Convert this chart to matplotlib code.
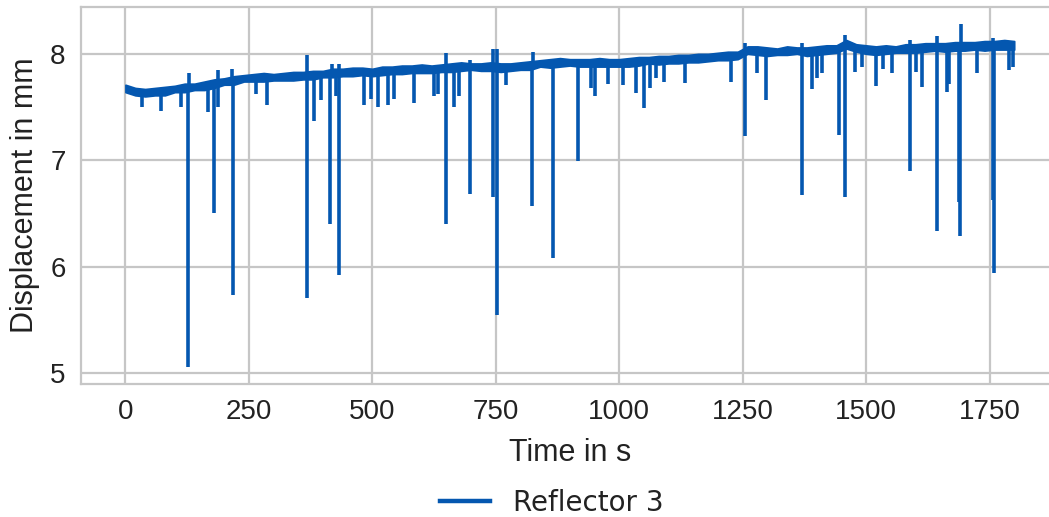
import matplotlib
matplotlib.use("Agg")
import matplotlib.pyplot as plt
from matplotlib.lines import Line2D

plt.rcParams['font.family'] = ['Liberation Sans', 'DejaVu Sans']

# noise band of the displacement signal (mm), upper/lower edge every 20 s
band_t = list(range(0, 1801, 20))
band_hi = [7.71, 7.68, 7.67, 7.68, 7.69, 7.70, 7.72, 7.72, 7.74, 7.76,
           7.77, 7.79, 7.80, 7.81, 7.82, 7.81, 7.82, 7.83, 7.83, 7.84,
           7.84, 7.86, 7.86, 7.87, 7.87, 7.86, 7.88, 7.88, 7.89, 7.89,
           7.90, 7.89, 7.90, 7.91, 7.92, 7.91, 7.91, 7.92, 7.91, 7.91,
           7.92, 7.93, 7.94, 7.95, 7.96, 7.95, 7.95, 7.95, 7.96, 7.95,
           7.95, 7.96, 7.97, 7.97, 7.98, 7.98, 7.99, 7.99, 8.00, 8.00,
           8.01, 8.02, 8.02, 8.07, 8.07, 8.06, 8.05, 8.07, 8.06, 8.06,
           8.07, 8.08, 8.08, 8.13, 8.09, 8.08, 8.07, 8.08, 8.07, 8.09,
           8.09, 8.10, 8.10, 8.10, 8.11, 8.11, 8.11, 8.12, 8.12, 8.13,
           8.12]
band_lo = [7.64, 7.61, 7.60, 7.61, 7.61, 7.64, 7.64, 7.66, 7.66, 7.68,
           7.71, 7.71, 7.74, 7.74, 7.74, 7.75, 7.75, 7.75, 7.76, 7.76,
           7.78, 7.78, 7.79, 7.79, 7.80, 7.79, 7.80, 7.81, 7.81, 7.82,
           7.82, 7.82, 7.83, 7.83, 7.84, 7.85, 7.84, 7.84, 7.83, 7.84,
           7.85, 7.85, 7.88, 7.87, 7.88, 7.89, 7.88, 7.88, 7.88, 7.88,
           7.88, 7.88, 7.89, 7.91, 7.90, 7.91, 7.91, 7.92, 7.92, 7.93,
           7.94, 7.94, 7.95, 8.00, 7.99, 7.98, 7.99, 7.99, 8.00, 7.98,
           7.99, 8.00, 8.01, 8.05, 8.02, 8.00, 7.99, 8.00, 8.01, 8.01,
           8.01, 8.02, 8.03, 8.02, 8.03, 8.03, 8.04, 8.03, 8.04, 8.04,
           8.04]

# short drop-outs: time, level before the drop, lowest reading
drop_t = [126, 180, 218, 367, 414, 432, 650, 697, 745, 753, 824, 866, 917,
          1255, 1370, 1445, 1458, 1588, 1644, 1688, 1690, 1758, 1760,
          33, 73, 113, 168, 188, 265, 287, 382, 396, 426, 483, 497, 511, 531,
          544, 584, 625, 633, 665, 675, 770, 943, 952, 977, 1008, 1034, 1051,
          1063, 1074, 1091, 1133, 1226, 1279, 1297, 1390, 1400, 1410, 1478,
          1492, 1521, 1535, 1552, 1602, 1613, 1663, 1668, 1724, 1790, 1798]
drop_top = [7.70, 7.72, 7.76, 7.80, 7.82, 7.84, 7.87, 7.88, 7.88, 7.88, 7.92, 7.92, 7.92,
            8.04, 8.04, 8.06, 8.08, 8.06, 8.07, 8.08, 8.08, 8.09, 8.09,
            7.65, 7.66, 7.68, 7.70, 7.72, 7.77, 7.78, 7.80, 7.80, 7.82, 7.83, 7.83, 7.84, 7.84,
            7.85, 7.85, 7.86, 7.86, 7.87, 7.87, 7.88, 7.92, 7.92, 7.92, 7.92, 7.93, 7.94,
            7.94, 7.94, 7.94, 7.95, 7.98, 8.03, 8.03, 8.03, 8.03, 8.03, 8.06,
            8.06, 8.05, 8.05, 8.05, 8.06, 8.06, 8.07, 8.07, 8.08, 8.08, 8.08]
drop_low = [5.06, 6.51, 5.74, 5.71, 6.40, 5.92, 6.40, 6.68, 6.66, 5.55, 6.57, 6.08, 6.99,
            7.23, 6.67, 7.24, 6.66, 6.90, 6.34, 6.61, 6.29, 6.63, 5.94,
            7.50, 7.46, 7.50, 7.45, 7.50, 7.62, 7.52, 7.37, 7.57, 7.60, 7.52, 7.58, 7.50, 7.52,
            7.58, 7.54, 7.60, 7.62, 7.50, 7.60, 7.71, 7.68, 7.60, 7.72, 7.71, 7.63, 7.49,
            7.68, 7.77, 7.74, 7.73, 7.74, 7.82, 7.57, 7.67, 7.77, 7.82, 7.83,
            7.88, 7.70, 7.86, 7.82, 7.83, 7.69, 7.64, 7.72, 7.82, 7.85, 7.88]

# upward jumps: time, base level, highest reading
peak_t = [128, 188, 216, 367, 418, 433, 650, 697, 745, 753, 826,
          1255, 1370, 1458, 1588, 1644, 1692, 1758, 1797]
peak_base = [7.70, 7.72, 7.76, 7.80, 7.82, 7.84, 7.87, 7.88, 7.88, 7.88, 7.92,
             8.00, 8.04, 8.08, 8.06, 8.07, 8.08, 8.09, 8.08]
peak_top = [7.82, 7.85, 7.86, 7.99, 7.90, 7.90, 8.01, 7.94, 8.05, 8.05, 8.02,
            8.10, 8.10, 8.18, 8.13, 8.17, 8.28, 8.15, 8.12]

blue = '#0457b0'
grid_grey = '#c6c6c6'

fig = plt.figure(figsize=(10.49, 5.17), dpi=100)
ax = fig.add_axes([0.0772, 0.2573, 0.932, 0.7292])

ax.fill_between(band_t, band_lo, band_hi, facecolor=blue, edgecolor=blue,
                lw=1.2, zorder=3)
ax.vlines(drop_t, drop_low, drop_top, color=blue, lw=2.6, zorder=3)
ax.vlines(peak_t, peak_base, peak_top, color=blue, lw=2.6, zorder=3)

ax.set_xlim(-90, 1890)
ax.set_ylim(4.9, 8.44)
ax.set_xticks([0, 250, 500, 750, 1000, 1250, 1500, 1750])
ax.set_yticks([5, 6, 7, 8])
ax.grid(True, color=grid_grey, lw=1.6)
ax.set_axisbelow(True)
for s in ax.spines.values():
    s.set_color(grid_grey)
    s.set_linewidth(1.6)
ax.spines['right'].set_visible(False)
ax.tick_params(length=0, pad=11, labelsize=20, colors='#222222')

ax.set_xlabel('Time in s', fontsize=22, color='#222222', labelpad=9)
ax.set_ylabel('Displacement in mm', fontsize=22, color='#222222', labelpad=7)

handle = Line2D([], [], color=blue, lw=3.2)
fig.legend([handle], ['Reflector 3'], loc='center', bbox_to_anchor=(0.526, 0.027),
           frameon=False, prop={'family': 'DejaVu Sans', 'size': 20},
           handlelength=1.8, labelcolor='#222222')

fig.savefig('out.png', dpi=100)
